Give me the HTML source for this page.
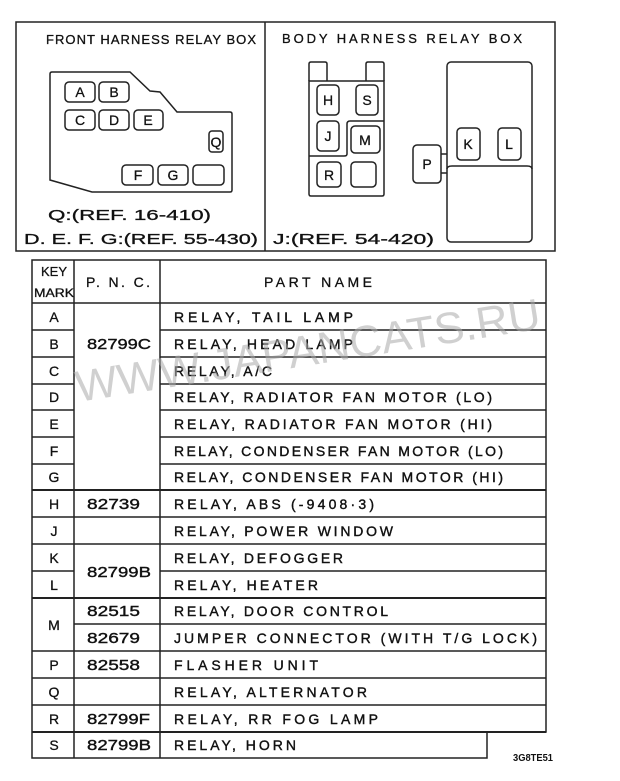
<!DOCTYPE html>
<html><head><meta charset="utf-8"><style>
html,body{margin:0;padding:0;background:#fff;}
svg{display:block;}
text{font-family:"Liberation Sans",sans-serif;fill:#111;}
.t{font-size:14px;stroke:#111;stroke-width:0.4;}
.k{font-size:14px;stroke:#111;stroke-width:0.3;}
.p{font-size:15px;stroke:#111;stroke-width:0.4;}
</style></head><body>
<svg width="620" height="781" viewBox="0 0 620 781" xmlns="http://www.w3.org/2000/svg">
<g fill="none" stroke="#222" stroke-width="1.5">
<rect x="16" y="22" width="539" height="229"/>
<line x1="265" y1="22" x2="265" y2="251"/>
<path d="M52,72 L130,72 L150,91 L160,92 L177,112 L230,112 Q232,112 232,114 L232,190 Q232,192 230,192 L92,192 L50,180 L50,74 Q50,72 52,72 Z"/>
<rect x="65" y="82" width="30" height="20" rx="4"/>
<rect x="99" y="82" width="30" height="20" rx="4"/>
<rect x="65" y="110" width="30" height="20" rx="4"/>
<rect x="99" y="110" width="30" height="20" rx="4"/>
<rect x="134" y="110" width="29" height="20" rx="4"/>
<rect x="209" y="131" width="14" height="21" rx="3"/>
<rect x="122" y="165" width="31" height="20" rx="4"/>
<rect x="158" y="165" width="30" height="20" rx="4"/>
<rect x="193" y="165" width="31" height="20" rx="4"/>
<path d="M309,81 L309,64 Q309,62 311,62 L325,62 Q327,62 327,64 L327,81"/>
<path d="M366,81 L366,64 Q366,62 368,62 L382,62 Q384,62 384,64 L384,81"/>
<path d="M309,81 L384,81 L384,194 Q384,196 382,196 L311,196 Q309,196 309,194 Z"/>
<path d="M384,121 L350,121 Q347,121 347,124 L347,154 Q347,156 344,156 L309,156"/>
<rect x="317" y="85" width="22" height="30" rx="4"/>
<rect x="356" y="85" width="22" height="30" rx="4"/>
<rect x="317" y="121" width="22" height="30" rx="4"/>
<rect x="351" y="126" width="29" height="27" rx="4"/>
<rect x="317" y="162" width="24" height="25" rx="4"/>
<rect x="351" y="162" width="25" height="25" rx="4"/>
<rect x="447" y="62" width="85" height="180" rx="4"/>
<path d="M447,169 Q447,166 452,166 L527,166 Q532,166 532,169"/>
<rect x="457" y="128" width="23" height="32" rx="4"/>
<rect x="498" y="128" width="23" height="32" rx="4"/>
<rect x="413" y="145" width="28" height="38" rx="4"/>
<line x1="441" y1="154" x2="447" y2="154"/>
<line x1="441" y1="173" x2="447" y2="173"/>
</g>
<g class="k">
<text x="46" y="44" font-size="13" textLength="210" lengthAdjust="spacing">FRONT HARNESS RELAY BOX</text>
<text x="282" y="43" font-size="13" textLength="240" lengthAdjust="spacing">BODY HARNESS RELAY BOX</text>
<text x="48" y="220" font-size="15" textLength="163" lengthAdjust="spacingAndGlyphs">Q:(REF. 16-410)</text>
<text x="24" y="244" font-size="15" textLength="234" lengthAdjust="spacingAndGlyphs">D. E. F. G:(REF. 55-430)</text>
<text x="273" y="244" font-size="15" textLength="161" lengthAdjust="spacingAndGlyphs">J:(REF. 54-420)</text>
</g>
<g class="k" text-anchor="middle" font-size="13">
<text x="80" y="97">A</text><text x="114" y="97">B</text>
<text x="80" y="125">C</text><text x="114" y="125">D</text><text x="148" y="125">E</text>
<text x="216" y="147">Q</text>
<text x="138" y="180">F</text><text x="173" y="180">G</text>
<text x="328" y="105">H</text><text x="367" y="105">S</text>
<text x="328" y="141">J</text><text x="365" y="145">M</text>
<text x="329" y="180">R</text>
<text x="468" y="149">K</text><text x="509" y="149">L</text>
<text x="427" y="169">P</text>
</g>
<g fill="none" stroke="#222" stroke-width="1.5">
<path d="M32,260 L546,260 L546,732 L487,732 L487,758 L32,758 Z"/>
<line x1="74" y1="260" x2="74" y2="758"/>
<line x1="160" y1="260" x2="160" y2="758"/>
<line x1="32" y1="303" x2="546" y2="303"/>
<line x1="32" y1="330" x2="74" y2="330"/><line x1="160" y1="330" x2="546" y2="330"/>
<line x1="32" y1="357" x2="74" y2="357"/><line x1="160" y1="357" x2="546" y2="357"/>
<line x1="32" y1="384" x2="74" y2="384"/><line x1="160" y1="384" x2="546" y2="384"/>
<line x1="32" y1="410" x2="74" y2="410"/><line x1="160" y1="410" x2="546" y2="410"/>
<line x1="32" y1="437" x2="74" y2="437"/><line x1="160" y1="437" x2="546" y2="437"/>
<line x1="32" y1="464" x2="74" y2="464"/><line x1="160" y1="464" x2="546" y2="464"/>
<line x1="32" y1="490" x2="546" y2="490" stroke-width="2"/>
<line x1="32" y1="517" x2="546" y2="517"/>
<line x1="32" y1="544" x2="546" y2="544"/>
<line x1="32" y1="571" x2="74" y2="571"/><line x1="160" y1="571" x2="546" y2="571"/>
<line x1="32" y1="598" x2="546" y2="598" stroke-width="2"/>
<line x1="74" y1="624" x2="546" y2="624"/>
<line x1="32" y1="651" x2="546" y2="651"/>
<line x1="32" y1="678" x2="546" y2="678"/>
<line x1="32" y1="705" x2="546" y2="705"/>
<line x1="32" y1="732" x2="546" y2="732" stroke-width="2"/>
</g>
<g class="k" text-anchor="middle">
<text x="54" y="276" font-size="13">KEY</text>
<text x="54" y="297" font-size="12" textLength="40" lengthAdjust="spacingAndGlyphs">MARK</text>
<text x="118" y="287" textLength="64" lengthAdjust="spacing">P. N. C.</text>
<text x="318" y="287" textLength="108" lengthAdjust="spacing">PART NAME</text>
<text x="54" y="322">A</text><text x="54" y="349">B</text><text x="54" y="376">C</text>
<text x="54" y="402">D</text><text x="54" y="429">E</text><text x="54" y="456">F</text>
<text x="54" y="482">G</text><text x="54" y="509">H</text><text x="54" y="536">J</text>
<text x="54" y="563">K</text><text x="54" y="590">L</text><text x="54" y="630">M</text>
<text x="54" y="670">P</text><text x="54" y="697">Q</text><text x="54" y="724">R</text>
<text x="54" y="750">S</text>
</g>
<g class="p">
<text x="87" y="349" textLength="64" lengthAdjust="spacingAndGlyphs">82799C</text>
<text x="87" y="509" textLength="53" lengthAdjust="spacingAndGlyphs">82739</text>
<text x="87" y="577" textLength="64" lengthAdjust="spacingAndGlyphs">82799B</text>
<text x="87" y="616" textLength="53" lengthAdjust="spacingAndGlyphs">82515</text>
<text x="87" y="643" textLength="53" lengthAdjust="spacingAndGlyphs">82679</text>
<text x="87" y="670" textLength="53" lengthAdjust="spacingAndGlyphs">82558</text>
<text x="87" y="724" textLength="63" lengthAdjust="spacingAndGlyphs">82799F</text>
<text x="87" y="750" textLength="64" lengthAdjust="spacingAndGlyphs">82799B</text>
</g>
<g class="t">
<text x="174" y="322" textLength="179">RELAY, TAIL LAMP</text>
<text x="174" y="349" textLength="179">RELAY, HEAD LAMP</text>
<text x="174" y="376" textLength="98">RELAY, A/C</text>
<text x="174" y="402" textLength="318">RELAY, RADIATOR FAN MOTOR (LO)</text>
<text x="174" y="429" textLength="318">RELAY, RADIATOR FAN MOTOR (HI)</text>
<text x="174" y="456" textLength="329">RELAY, CONDENSER FAN MOTOR (LO)</text>
<text x="174" y="482" textLength="329">RELAY, CONDENSER FAN MOTOR (HI)</text>
<text x="174" y="509" textLength="200">RELAY, ABS (-9408·3)</text>
<text x="174" y="536" textLength="219">RELAY, POWER WINDOW</text>
<text x="174" y="563" textLength="169">RELAY, DEFOGGER</text>
<text x="174" y="590" textLength="144">RELAY, HEATER</text>
<text x="174" y="616" textLength="214">RELAY, DOOR CONTROL</text>
<text x="174" y="643" textLength="363">JUMPER CONNECTOR (WITH T/G LOCK)</text>
<text x="174" y="670" textLength="144">FLASHER UNIT</text>
<text x="174" y="697" textLength="193">RELAY, ALTERNATOR</text>
<text x="174" y="724" textLength="204">RELAY, RR FOG LAMP</text>
<text x="174" y="750" textLength="122">RELAY, HORN</text>
</g>
<text x="513" y="761" font-size="10" font-weight="bold" textLength="40" lengthAdjust="spacingAndGlyphs">3G8TE51</text>
<text x="78" y="402" font-size="44" style="fill:#aaa;fill-opacity:0.55" transform="rotate(-9 78 402)" textLength="470" lengthAdjust="spacingAndGlyphs">WWW.JAPANCATS.RU</text>
</svg>
</body></html>
